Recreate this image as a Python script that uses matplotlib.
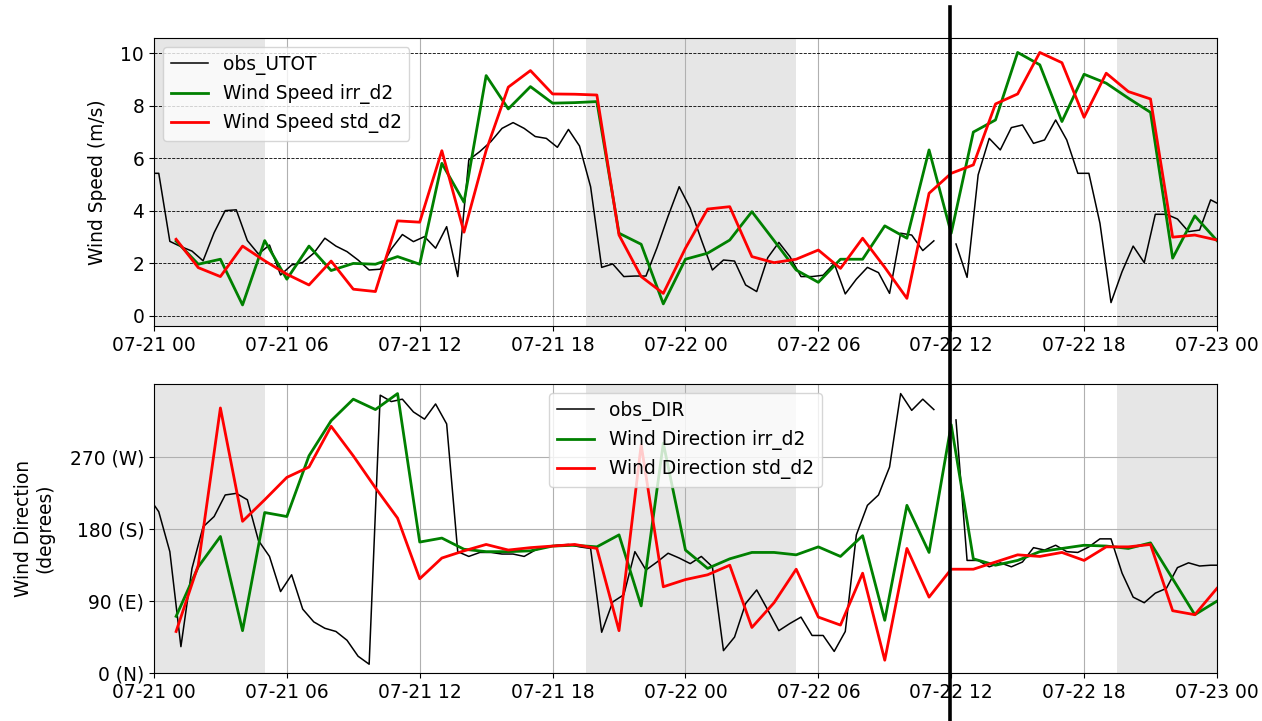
import matplotlib
matplotlib.use('Agg')
import matplotlib.pyplot as plt
import matplotlib.dates as mdates
import matplotlib.transforms as mtransforms
from matplotlib.lines import Line2D
import numpy as np
import pandas as pd

plt.rcParams['font.family'] = ['DejaVu Sans']
plt.rcParams['font.size'] = 13.4

# ---------------- data ----------------
obs_start = '2023-07-20 23:43'   # half-hourly observations
model_start = '2023-07-21 01:00'  # hourly model output

obs_utot = [5.43, 5.43, 2.84, 2.64, 2.47, 2.10, 3.17, 4.01, 4.04, 2.87,
            2.36, 2.70, 1.56, 1.94, 2.04, 2.39, 2.96, 2.66, 2.45, 2.13,
            1.75, 1.78, 2.55, 3.10, 2.83, 3.02, 2.58, 3.40, 1.50, 5.94,
            6.26, 6.64, 7.14, 7.36, 7.14, 6.83, 6.76, 6.42, 7.10, 6.47,
            4.92, 1.85, 1.98, 1.50, 1.52, 1.52, 2.60, 3.80, 4.92, 4.10,
            2.90, 1.75, 2.13, 2.09, 1.18, 0.93, 2.22, 2.80, 2.26, 1.50,
            1.50, 1.55, 2.00, 0.84, 1.40, 1.85, 1.65, 0.86, 3.15, 3.08,
            2.49, 2.86, np.nan, 2.74, 1.47, 5.37, 6.76, 6.32, 7.17, 7.27,
            6.57, 6.70, 7.46, 6.70, 5.43, 5.43, 3.53, 0.51, 1.69, 2.66,
            2.03, 3.87, 3.87, 3.69, 3.21, 3.27, 4.42, 4.20]

obs_dir = [222, 202, 152, 33, 131, 183, 196, 223, 225, 217,
           166, 146, 102, 123, 80, 64, 56, 52, 41, 21,
           11, 348, 340, 343, 327, 318, 337, 312, 152, 146,
           151, 151, 149, 149, 146, 154, 158, 160, 161, 158,
           156, 51, 89, 98, 152, 129, 139, 150, 144, 137,
           146, 133, 28, 45, 87, 104, 79, 53, 62, 70,
           47, 47, 27, 52, 173, 210, 223, 258, 350, 329,
           343, 330, np.nan, 317, 141, 141, 133, 138, 133, 139,
           157, 154, 160, 152, 151, 158, 168, 168, 125, 95,
           88, 100, 106, 132, 138, 134, 135, 135]

ws_irr = [2.85, 1.97, 2.16, 0.42, 2.87, 1.40, 2.66, 1.73, 2.00, 1.97,
          2.26, 1.97, 5.81, 4.33, 9.15, 7.88, 8.73, 8.10, 8.12, 8.16,
          3.15, 2.73, 0.46, 2.16, 2.39, 2.89, 3.97, 2.87, 1.75, 1.28,
          2.16, 2.16, 3.43, 2.96, 6.32, 3.15, 7.00, 7.46, 10.03, 9.56,
          7.40, 9.20, 8.86, 8.29, 7.75, 2.20, 3.81, 2.87]

ws_std = [2.92, 1.84, 1.50, 2.66, 2.10, 1.59, 1.18, 2.09, 1.02, 0.93,
          3.62, 3.57, 6.29, 3.19, 6.30, 8.71, 9.34, 8.45, 8.44, 8.41,
          3.08, 1.50, 0.86, 2.58, 4.07, 4.16, 2.26, 2.03, 2.16, 2.51,
          1.81, 2.96, 1.85, 0.67, 4.67, 5.43, 5.75, 8.07, 8.45, 10.03,
          9.64, 7.56, 9.24, 8.54, 8.26, 3.00, 3.08, 2.89]

wd_irr = [71, 133, 171, 53, 201, 196, 272, 316, 343, 330,
          350, 164, 169, 155, 152, 152, 153, 159, 160, 158,
          173, 84, 288, 154, 131, 143, 151, 151, 148, 158,
          146, 172, 66, 210, 151, 311, 143, 135, 141, 152,
          156, 160, 159, 156, 163, 118, 73, 90]

wd_std = [52, 135, 332, 190, 217, 245, 258, 309, 272, 232,
          194, 118, 144, 153, 161, 154, 157, 159, 161, 156,
          53, 286, 108, 117, 123, 135, 57, 88, 130, 70,
          60, 125, 16, 156, 95, 130, 130, 139, 148, 146,
          151, 141, 158, 158, 161, 78, 73, 106]

night_start = ['2023-07-20 19:30', '2023-07-21 19:30', '2023-07-22 19:30']
night_end = ['2023-07-21 05:00', '2023-07-22 05:00', '2023-07-23 05:00']

dir_ticks = [0, 90, 180, 270]
dir_labels = ['0 (N)', '90 (E)', '180 (S)', '270 (W)']

x_start = '2023-07-21 00:00'
x_end = '2023-07-23 00:00'
marker_time = '2023-07-22 11:57'

obs_times = pd.date_range(obs_start, periods=len(obs_utot), freq='30min')
model_times = pd.date_range(model_start, periods=len(ws_irr), freq='h')

# ---------------- figure ----------------
fig = plt.figure(figsize=(12.62, 7.21), dpi=100)
ax1 = fig.add_axes([0.122, 0.5479, 0.8423, 0.3994])
ax2 = fig.add_axes([0.122, 0.0666, 0.8423, 0.4008])

for ax in (ax1, ax2):
    for s, e in zip(night_start, night_end):
        ax.axvspan(pd.Timestamp(s), pd.Timestamp(e), color='0.9', lw=0, zorder=0)
    ax.set_axisbelow(True)

ax1.plot(obs_times, obs_utot, color='k', lw=1.1, label='obs_UTOT')
ax1.plot(model_times, ws_irr, color='green', lw=2, label='Wind Speed irr_d2')
ax1.plot(model_times, ws_std, color='red', lw=2, label='Wind Speed std_d2')
ax1.grid(axis='x', color='#b0b0b0', lw=0.8)
ax1.grid(axis='y', color='k', ls='--', lw=0.6)
ax1.set_ylim(-0.38, 10.58)
ax1.set_yticks([0, 2, 4, 6, 8, 10])
ax1.set_ylabel('Wind Speed (m/s)', labelpad=10)
ax1.legend(loc='upper left')

ax2.plot(obs_times, obs_dir, color='k', lw=1.1, label='obs_DIR')
ax2.plot(model_times, wd_irr, color='green', lw=2, label='Wind Direction irr_d2')
ax2.plot(model_times, wd_std, color='red', lw=2, label='Wind Direction std_d2')
ax2.grid(color='#b0b0b0', lw=0.8)
ax2.set_ylim(0, 362)
ax2.set_yticks(dir_ticks)
ax2.set_yticklabels(dir_labels)
ax2.set_ylabel('Wind Direction\n(degrees)', labelpad=11)
ax2.legend(loc='upper center')

for ax in (ax1, ax2):
    ax.set_xlim(pd.Timestamp(x_start), pd.Timestamp(x_end))
    ax.xaxis.set_major_locator(mdates.HourLocator(byhour=[0, 6, 12, 18]))
    ax.xaxis.set_major_formatter(mdates.DateFormatter('%m-%d %H'))

trans = mtransforms.blended_transform_factory(ax1.transData, fig.transFigure)
xm = mdates.date2num(pd.Timestamp(marker_time))
fig.add_artist(Line2D([xm, xm], [0, 1 - 7 / 721], transform=trans, color='k', lw=2.6))

fig.savefig('out.png', dpi=100)
